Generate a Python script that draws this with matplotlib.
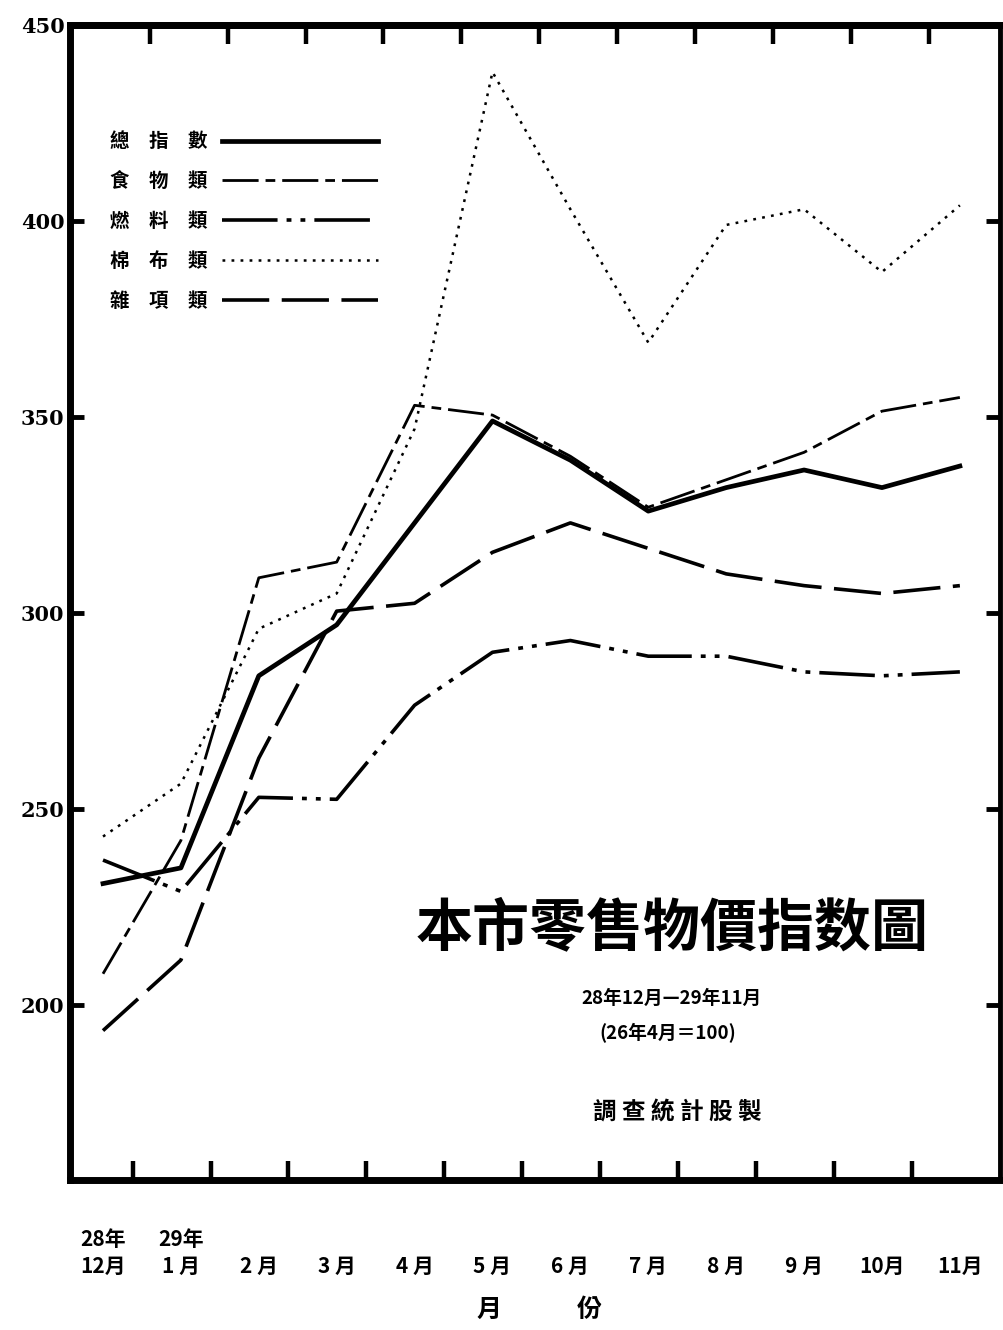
import matplotlib
matplotlib.use('Agg')
import matplotlib.pyplot as plt
import numpy as np

plt.rcParams['font.family'] = ['Noto Sans CJK TC', 'DejaVu Sans']
plt.rcParams['lines.scale_dashes'] = False

# 月份 (28年12月 - 29年11月)
MONTHS = ['28年\n12月', '29年\n1 月', '\n2 月', '\n3 月', '\n4 月', '\n5 月',
          '\n6 月', '\n7 月', '\n8 月', '\n9 月', '\n10月', '\n11月']

# 指數 (26年4月=100)
total = [231, 235, 284, 297, 323, 349, 339, 326, 332, 336.5, 332, 337.5]   # 總指數
food = [208, 242, 309, 313, 353, 350.5, 340, 327, 334, 341, 351.5, 355]    # 食物類
fuel = [237, 229, 253, 252.5, 276.5, 290, 293, 289, 289, 285, 284, 285]    # 燃料類
cloth = [243, 256.5, 296, 305, 347, 438, 403, 369, 399, 403, 387, 404]     # 棉布類
misc = [193.5, 211.5, 263, 300.5, 302.5, 315.5, 323, 316.5, 310, 307, 305, 307]  # 雜項類

YTICKS = [200, 250, 300, 350, 400, 450]

fig = plt.figure(figsize=(10.04, 13.30), dpi=100)
ax = fig.add_axes([0.0697, 0.1128, 0.9263, 0.8684])

x = np.arange(len(MONTHS))
ax.plot(x, total, color='k', lw=3.4, label='總　指　數')
ax.plot(x, food, color='k', lw=2.0, dashes=(26, 5, 7, 5), label='食　物　類')
ax.plot(x, fuel, color='k', lw=2.6, dashes=(40, 6.5, 3.5, 6.5, 3.5, 6.5), label='燃　料　類')
ax.plot(x, cloth, color='k', lw=1.8, dashes=(2, 4.5), label='棉　布　類')
ax.plot(x, misc, color='k', lw=2.6, dashes=(34, 9), label='雜　項　類')

ax.set_xlim(-0.424, 11.515)
ax.set_ylim(155.4, 450)

# spines
for s in ['left', 'top', 'bottom']:
    ax.spines[s].set_linewidth(5)
ax.spines['right'].set_linewidth(3.5)

# x: labels under points, short inward marks between them
ax.set_xticks(x, MONTHS)
ax.tick_params(axis='x', which='major', length=0, pad=35, labelsize=15)
for lab in ax.get_xticklabels():
    lab.set_fontweight('bold')
    lab.set_linespacing(1.35)
ax.set_xticks(np.arange(11) + 0.38, minor=True)
ax.tick_params(axis='x', which='minor', direction='in', length=14, width=3.2)

sec = ax.secondary_xaxis('top')
sec.set_xticks(np.arange(11) + 0.6)
sec.tick_params(direction='in', length=14, width=3.2, labeltop=False)
sec.spines['top'].set_linewidth(5)

ax.set_yticks(YTICKS)
ax.tick_params(axis='y', direction='in', length=10, width=3.5, right=True,
               labelsize=15, pad=4)
for lab in ax.get_yticklabels():
    lab.set_fontfamily('DejaVu Serif')
    lab.set_fontweight('bold')

leg = ax.legend(loc='upper left', bbox_to_anchor=(0.043, 0.907), frameon=False,
                markerfirst=False, prop={'size': 14, 'weight': 'bold'},
                handlelength=8.0, handletextpad=0.77, labelspacing=1.07,
                borderpad=0, borderaxespad=0)

fig.text(540 / 1004, 1 - 1310 / 1330, '月　　　份', fontsize=18, weight='bold',
         ha='center', va='center')

fig.text(672 / 1004, 1 - 928 / 1330, '本市零售物價指数圖', fontsize=41,
         weight='bold', ha='center', va='center')
fig.text(672 / 1004, 1 - 998 / 1330, '28年12月—29年11月', fontsize=13.5,
         weight='bold', ha='center', va='center')
fig.text(668 / 1004, 1 - 1033 / 1330, '(26年4月＝100)', fontsize=13.5,
         weight='bold', ha='center', va='center')
fig.text(677 / 1004, 1 - 1112 / 1330, '調 查 統 計 股 製', fontsize=17,
         weight='bold', ha='center', va='center')

fig.savefig('out.png', dpi=100)
